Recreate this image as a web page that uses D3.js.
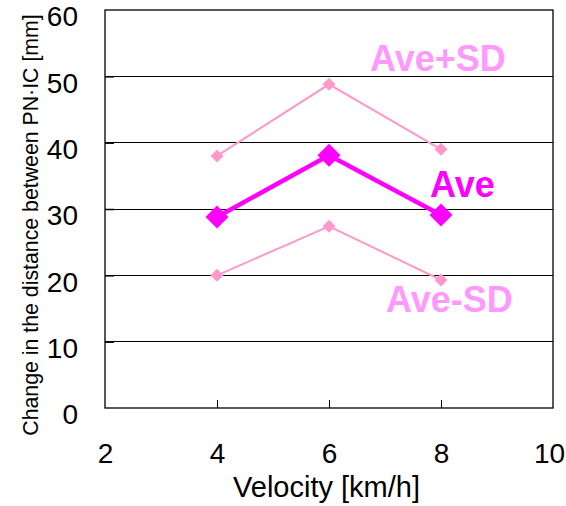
<!DOCTYPE html>
<html>
<head>
<meta charset="utf-8">
<script src="https://cdn.jsdelivr.net/npm/d3@7"></script>
<style>
  html, body { margin: 0; padding: 0; background: #fff; }
  svg { display: block; font-family: Arial, "Liberation Sans", sans-serif; }
</style>
</head>
<body>
<svg id="chart" width="566" height="506"></svg>
<script>
// ---- Data ----
const velocities = [4, 6, 8];
const aveValues = [28.8, 38.1, 29.1];
const avePlusSD = [38.0, 48.8, 39.0];
const aveMinusSD = [20.0, 27.4, 19.3];
const xTicks = [2, 4, 6, 8, 10];
const yTicks = [0, 10, 20, 30, 40, 50, 60];
const xTitle = "Velocity [km/h]";
const yTitle = "Change in the distance between PN·IC [mm]";
const seriesLabels = ["Ave+SD", "Ave", "Ave-SD"];

(function () {
// ---- Layout ----
const svg = d3.select("#chart");
const pLeft = 105, pRight = 553, pTop = 10, pBottom = 408;
const x = d3.scaleLinear().domain([2, 10]).range([pLeft, pRight]);
const y = d3.scaleLinear().domain([0, 60]).range([pBottom, pTop]);

// gridlines
svg.append("g").selectAll("line")
  .data(yTicks.filter(t => t > 0 && t < 60))
  .join("line")
  .attr("x1", pLeft).attr("x2", pRight)
  .attr("y1", d => y(d)).attr("y2", d => y(d))
  .attr("stroke", "#000").attr("stroke-width", 1).attr("shape-rendering", "crispEdges");

// plot border
svg.append("rect")
  .attr("x", pLeft).attr("y", pTop)
  .attr("width", pRight - pLeft).attr("height", pBottom - pTop)
  .attr("fill", "none").attr("stroke", "#000").attr("stroke-width", 1.3);

// x axis
const xAxis = d3.axisBottom(x).tickValues(xTicks).tickSizeInner(-8).tickSizeOuter(0).tickPadding(35)
  .tickFormat(d3.format("d"));
const gx = svg.append("g").attr("transform", `translate(0,${pBottom})`).call(xAxis);
gx.select(".domain").remove();
gx.selectAll(".tick line").attr("stroke", "#000").attr("opacity", (d) => (d === 2 || d === 10) ? 0 : 1);
gx.selectAll(".tick text").attr("font-size", 28).attr("fill", "#000")
  .attr("font-family", "Arial, 'Liberation Sans', sans-serif")
  .attr("dx", d => d === 10 ? -4 : 0);

// y axis
const yAxis = d3.axisLeft(y).tickValues(yTicks).tickSizeInner(-9).tickSizeOuter(0).tickPadding(27)
  .tickFormat(d3.format("d"));
const gy = svg.append("g").attr("transform", `translate(${pLeft},0)`).call(yAxis);
gy.select(".domain").remove();
gy.selectAll(".tick line").attr("stroke", "#000").attr("stroke-width", 1.5)
  .attr("opacity", (d) => (d === 0 || d === 60) ? 0 : 1);
gy.selectAll(".tick text").attr("font-size", 28).attr("fill", "#000").attr("dy", "0.57em")
  .attr("font-family", "Arial, 'Liberation Sans', sans-serif");

// axis titles
svg.append("text")
  .attr("x", (230 + 423) / 2).attr("y", 497)
  .attr("text-anchor", "middle").attr("font-size", 29).attr("fill", "#000")
  .text(xTitle);
svg.append("text")
  .attr("transform", `translate(38,${225}) rotate(-90)`)
  .attr("text-anchor", "middle").attr("font-size", 21.3).attr("fill", "#000")
  .text(yTitle);

// series
const line = d3.line().x(d => x(d[0])).y(d => y(d[1]));
const diamond = (cx, cy, r) => `M${cx},${cy - r}L${cx + r},${cy}L${cx},${cy + r}L${cx - r},${cy}Z`;

function drawSeries(values, color, width, r) {
  const pts = velocities.map((v, i) => [v, values[i]]);
  svg.append("path").datum(pts).attr("d", line)
    .attr("fill", "none").attr("stroke", color).attr("stroke-width", width);
  svg.append("g").selectAll("path").data(pts).join("path")
    .attr("d", d => diamond(x(d[0]), y(d[1]), r))
    .attr("fill", color);
}
drawSeries(avePlusSD, "#ff99cc", 2, 6.5);
drawSeries(aveMinusSD, "#ff99cc", 2, 6.5);
drawSeries(aveValues, "#ff00ff", 4.5, 11.5);

// series labels
svg.append("text").attr("x", 370).attr("y", 71).attr("font-size", 36).attr("font-weight", "bold")
  .attr("fill", "#ff99ff").text(seriesLabels[0]);
svg.append("text").attr("x", 430).attr("y", 197).attr("font-size", 36).attr("font-weight", "bold")
  .attr("fill", "#ff00ff").text(seriesLabels[1]);
svg.append("text").attr("x", 386).attr("y", 312).attr("font-size", 36).attr("font-weight", "bold")
  .attr("fill", "#ff99ff").text(seriesLabels[2]);
})();
</script>
</body>
</html>
